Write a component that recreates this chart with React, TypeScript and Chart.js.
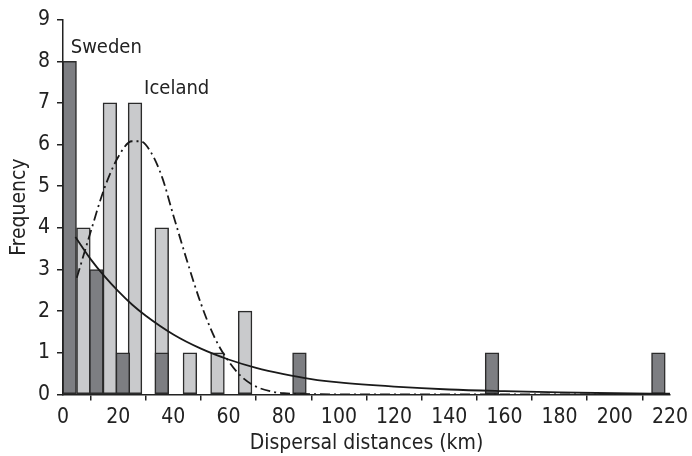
import React, { useEffect, useRef } from "react";
import { Chart, registerables } from "chart.js";

Chart.register(...registerables);

// Histogram bars (bin centre in km, frequency)
const swedenX = [2.4, 12.1, 21.7, 35.8, 85.7, 155.5, 215.8];
const swedenFreq = [8, 3, 1, 1, 1, 1, 1];
const icelandX = [7.4, 17.0, 26.1, 35.8, 46.0, 56.0, 66.0];
const icelandFreq = [4, 7, 7, 4, 1, 1, 2];

// Fitted curves
const swedenCurveX = [4.5, 10, 15, 20, 25, 30, 40, 50, 60, 70, 80, 90, 100, 120, 140, 160, 180, 200, 220];
const swedenCurveY = [3.78, 3.25, 2.84, 2.48, 2.16, 1.89, 1.44, 1.1, 0.84, 0.64, 0.49, 0.37, 0.29, 0.19, 0.12, 0.08, 0.05, 0.03, 0.02];
const icelandCurveX = [5, 10, 15, 20, 25, 28, 32, 36, 40, 45, 50, 55, 60, 65, 70, 75, 80, 90, 100, 120, 140, 160, 180, 200, 220];
const icelandCurveY = [2.8, 3.9, 4.95, 5.7, 6.08, 6.08, 5.8, 5.2, 4.3, 3.2, 2.18, 1.36, 0.8, 0.41, 0.19, 0.08, 0.03, 0.01, 0, 0, 0, 0, 0, 0, 0];

const xTicks = [0, 20, 40, 60, 80, 100, 120, 140, 160, 180, 200, 220];
const yTicks = [0, 1, 2, 3, 4, 5, 6, 7, 8, 9];

const seriesLabels = [
  { text: "Sweden", x: 2.8, y: 8.19 },
  { text: "Iceland", x: 29.4, y: 7.22 },
];

const FONT_FAMILY = "'Liberation Sans Narrow', 'DejaVu Sans Condensed', 'Liberation Sans', sans-serif";
const TEXT = "#222222";

const zip = (xs: number[], ys: number[]) => xs.map((x, i) => ({ x, y: ys[i] }));

const labelPlugin = {
  id: "seriesLabels",
  afterDatasetsDraw(chart: any) {
    const { ctx, scales } = chart;
    ctx.save();
    ctx.font = `20px ${FONT_FAMILY}`;
    ctx.fillStyle = TEXT;
    ctx.textAlign = "left";
    ctx.textBaseline = "alphabetic";
    for (const l of seriesLabels) {
      ctx.fillText(l.text, scales.x.getPixelForValue(l.x), scales.y.getPixelForValue(l.y));
    }
    ctx.restore();
  },
};

export default function App() {
  const ref = useRef<HTMLCanvasElement | null>(null);
  useEffect(() => {
    if (!ref.current) return;
    const chart = new Chart(ref.current, {
      type: "bar",
      data: {
        datasets: [
          {
            type: "line",
            label: "Sweden fit",
            data: zip(swedenCurveX, swedenCurveY),
            borderColor: "#1a1a1a",
            borderWidth: 1.8,
            pointRadius: 0,
            cubicInterpolationMode: "monotone",
            fill: false,
            order: 0,
          } as any,
          {
            type: "line",
            label: "Iceland fit",
            data: zip(icelandCurveX, icelandCurveY),
            borderColor: "#1a1a1a",
            borderWidth: 1.8,
            borderDash: [10, 4, 2, 4],
            pointRadius: 0,
            cubicInterpolationMode: "monotone",
            fill: false,
            order: 0,
          } as any,
          {
            label: "Sweden",
            data: zip(swedenX, swedenFreq),
            backgroundColor: "#7d7e82",
            borderColor: "#2b2b2b",
            borderWidth: 1.5,
            borderSkipped: false,
            barThickness: 13.7,
            grouped: false,
            order: 1,
          } as any,
          {
            label: "Iceland",
            data: zip(icelandX, icelandFreq),
            backgroundColor: "#c9cacc",
            borderColor: "#2b2b2b",
            borderWidth: 1.5,
            borderSkipped: false,
            barThickness: 13.7,
            grouped: false,
            order: 2,
          } as any,
        ],
      },
      options: {
        animation: false,
        responsive: false,
        layout: { padding: { left: 0, top: 16, right: 22, bottom: 0 } },
        plugins: { legend: { display: false }, tooltip: { enabled: false } },
        scales: {
          x: {
            type: "linear",
            min: 0,
            max: 220,
            offset: false,
            afterBuildTicks: (s: any) => {
              s.ticks = xTicks.map((v) => ({ value: v }));
            },
            afterFit: (s: any) => {
              s.height = 61.5;
            },
            border: { display: true, color: "#222", width: 1.5 },
            grid: { display: true, drawOnChartArea: false, drawTicks: true, tickLength: 6, color: "#222", lineWidth: 1.5 },
            ticks: { color: TEXT, font: { family: FONT_FAMILY, size: 21 }, padding: 4, maxRotation: 0, autoSkip: false },
            title: {
              display: true,
              text: "Dispersal distances (km)",
              color: TEXT,
              font: { family: FONT_FAMILY, size: 21 },
              padding: { top: 0, bottom: 0 },
            },
          },
          y: {
            type: "linear",
            min: 0,
            max: 9,
            afterBuildTicks: (s: any) => {
              s.ticks = yTicks.map((v) => ({ value: v }));
            },
            afterFit: (s: any) => {
              s.width = 63;
            },
            border: { display: true, color: "#222", width: 1.5 },
            grid: { display: true, drawOnChartArea: false, drawTicks: true, tickLength: 6, color: "#222", lineWidth: 1.5 },
            ticks: { color: TEXT, font: { family: FONT_FAMILY, size: 21 }, padding: 7, autoSkip: false },
            title: {
              display: true,
              text: "Frequency",
              color: TEXT,
              font: { family: FONT_FAMILY, size: 21 },
              padding: { top: 7, bottom: 0 },
            },
          },
        },
      } as any,
      plugins: [labelPlugin],
    });
    return () => chart.destroy();
  }, []);
  return (
    <div style={{ position: "absolute", left: 0, top: 0, width: 692, height: 456, background: "#fff" }}>
      <canvas ref={ref} width={692} height={456} style={{ display: "block" }} />
    </div>
  );
}
